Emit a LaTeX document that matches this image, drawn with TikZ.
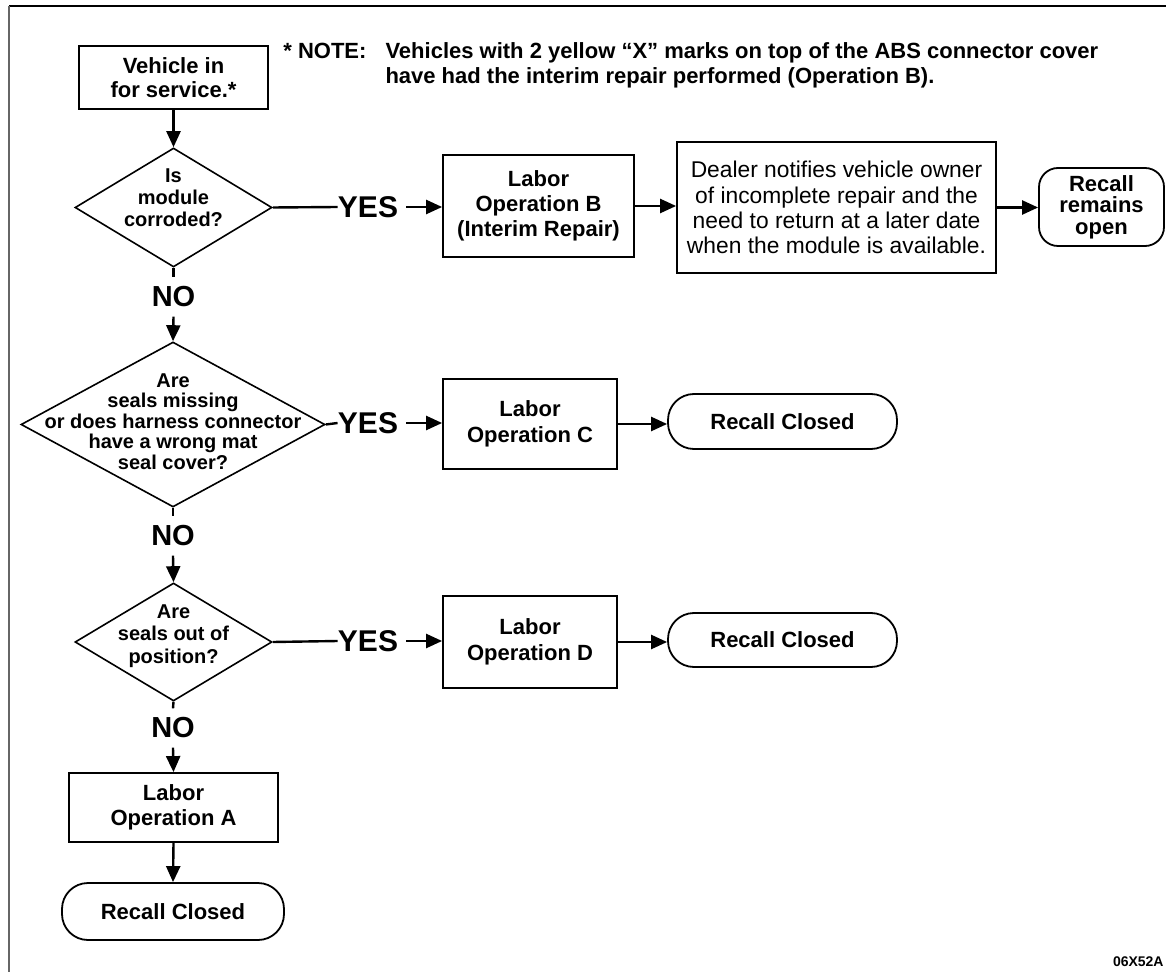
\documentclass[tikz,border=0pt]{standalone}
\usepackage{fontspec}
\setmainfont{Liberation Sans}
\usetikzlibrary{arrows.meta,shapes.geometric,positioning}

\begin{document}
\begin{tikzpicture}[x=0.5pt,y=-0.5pt]
	\tikzstyle{every node}=[font=\fontsize{11}{12.5}\selectfont\bfseries]
	\tikzstyle{procbox}=[draw, line width=0.9pt, rectangle, inner sep=0pt, align=center]
	\tikzstyle{endbox}=[draw, line width=0.9pt, rectangle, rounded corners=13pt, inner sep=0pt, align=center]
	\tikzstyle{decision}=[draw, line width=0.8pt, diamond, inner sep=0pt]
	\tikzstyle{asktext}=[align=center, inner sep=0pt, font=\fontsize{10}{11}\selectfont\bfseries]
	\tikzstyle{answer}=[inner sep=4.5pt, font=\fontsize{14.5}{15}\selectfont\bfseries]
	\tikzstyle{flow}=[line width=1.2pt, -{Triangle[length=8pt,width=7pt]}]
	\tikzstyle{stub}=[line width=1.2pt]
	\useasboundingbox (0,0) rectangle (1166,972);
	% frame of the scan
	\draw [line width=1pt] (9,6.5) -- (1166,6.5);
	\draw [line width=0.6pt, black!60] (9,6.5) -- (9,972);
	% note
	\node [anchor=base west, inner sep=0pt] (note) at (283,59) {\begin{tabular}[t]{@{}l@{\hspace{9.5pt}}l@{}}* NOTE: & Vehicles with 2 yellow ``X'' marks on top of the ABS connector cover\\ & have had the interim repair performed (Operation B).\end{tabular}};
	% main column
	\node [procbox, minimum width=94.5pt, minimum height=31.5pt, font=\fontsize{11}{12}\selectfont\bfseries] (start) at (173.5,77.5) {Vehicle in\\for service.*};
	\node [decision, minimum width=98.5pt, minimum height=59.5pt] (d1) at (173.5,207.5) {};
	\node [asktext] (d1txt) at (173.5,198) {Is\\module\\corroded?};
	\node [answer] (n1) at (173.5,297) {NO};
	\node [decision, minimum width=152pt, minimum height=82.5pt] (d2) at (173,424.5) {};
	\node [asktext, font=\fontsize{10}{10.2}\selectfont\bfseries] (d2txt) at (173,421.5) {Are\\seals missing\\or does harness connector\\have a wrong mat\\seal cover?};
	\node [answer] (n2) at (173,536) {NO};
	\node [decision, minimum width=98.5pt, minimum height=59pt] (d3) at (173.5,642) {};
	\node [asktext, font=\fontsize{10}{11.3}\selectfont\bfseries] (d3txt) at (173.5,636) {Are\\seals out of\\position?};
	\node [answer] (n3) at (173,728) {NO};
	\node [procbox, minimum width=104.5pt, minimum height=34.5pt, font=\fontsize{11}{12.8}\selectfont\bfseries] (bA) at (173.5,807.5) {Labor\\Operation A};
	\node [endbox, minimum width=111pt, minimum height=28.5pt] (rA) at (173,911.5) {Recall Closed};
	% YES row 1
	\node [answer, inner sep=0pt, font=\fontsize{15}{16}\selectfont\bfseries] (y1) at (368,207) {YES};
	\node [procbox, minimum width=95.5pt, minimum height=51pt, font=\fontsize{11}{12.5}\selectfont\bfseries] (bB) at (538.5,206) {Labor\\Operation B\\(Interim Repair)};
	\node [procbox, minimum width=159.5pt, minimum height=65.5pt, font=\fontsize{11.4}{12.6}\selectfont\mdseries] (dealer) at (836.5,207.5) {Dealer notifies vehicle owner\\of incomplete repair and the\\need to return at a later date\\when the module is available.};
	\node [endbox, rounded corners=9.5pt, minimum width=62.5pt, minimum height=39pt, font=\fontsize{11}{10.8}\selectfont\bfseries] (open) at (1101.5,207) {Recall\\remains\\open};
	% YES row 2
	\node [answer, inner sep=0pt, font=\fontsize{15}{16}\selectfont\bfseries] (y2) at (368,423) {YES};
	\node [procbox, minimum width=87pt, minimum height=45pt, font=\fontsize{11}{12.8}\selectfont\bfseries] (bC) at (530,424) {Labor\\Operation C};
	\node [endbox, minimum width=114.5pt, minimum height=27.5pt] (rC) at (782.5,421.5) {Recall Closed};
	% YES row 3
	\node [answer, inner sep=0pt, font=\fontsize{15}{16}\selectfont\bfseries] (y3) at (368,641) {YES};
	\node [procbox, minimum width=87pt, minimum height=46pt, font=\fontsize{11}{12.8}\selectfont\bfseries] (bD) at (530,642) {Labor\\Operation D};
	\node [endbox, minimum width=114.5pt, minimum height=27pt] (rD) at (782.5,640) {Recall Closed};
	\node [anchor=base east, inner sep=0pt, font=\fontsize{7}{8}\selectfont\bfseries] (code) at (1164,966) {06X52A};
	% connectors
	\draw [flow] (start.south) -- (d1.north);
	\draw [stub] (d1.south) -- (n1.north);
	\draw [flow] (n1.south) -- (d2.north);
	\draw [stub] (d2.south) -- (n2.north);
	\draw [flow] (n2.south) -- (d3.north);
	\draw [stub] (d3.south) -- (n3.north);
	\draw [flow] (n3.south) -- (bA.north);
	\draw [flow] (bA.south) -- (rA.north);
	\draw [stub] (d1.east) -- (y1.west);
	\draw [flow] ([xshift=4pt]y1.east) -- (y1.east -| bB.west);
	\draw [flow] (bB.east) -- (bB.east -| dealer.west);
	\draw [flow] (dealer.east) -- (dealer.east -| open.west);
	\draw [stub] (d2.east) -- (y2.west);
	\draw [flow] ([xshift=4pt]y2.east) -- (y2.east -| bC.west);
	\draw [flow] (bC.east) -- (bC.east -| rC.west);
	\draw [stub] (d3.east) -- (y3.west);
	\draw [flow] ([xshift=4pt]y3.east) -- (y3.east -| bD.west);
	\draw [flow] (bD.east) -- (bD.east -| rD.west);
\end{tikzpicture}
\end{document}
